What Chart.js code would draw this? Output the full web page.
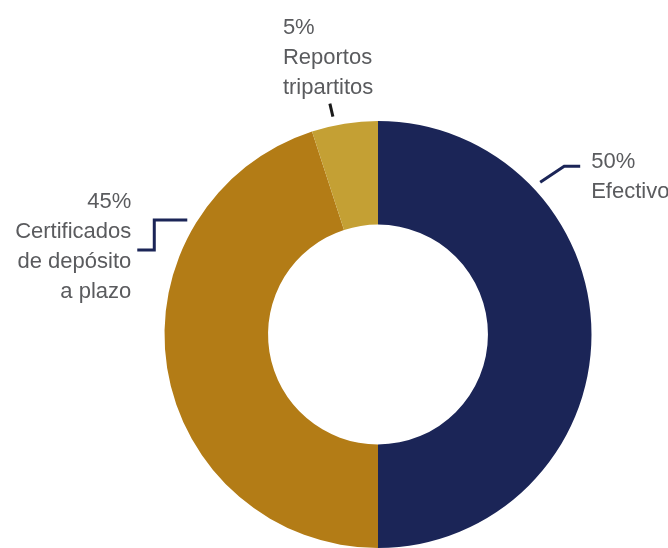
<!DOCTYPE html>
<html>
<head>
<meta charset="utf-8">
<script src="https://cdn.jsdelivr.net/npm/chart.js@4/dist/chart.umd.min.js"></script>
<style>
  html, body { margin: 0; padding: 0; background: #fff; }
  #wrap { width: 668px; height: 548px; position: relative; }
</style>
</head>
<body>
<div id="wrap"><canvas id="myChart"></canvas></div>
<script>
const categories = [
    ['Efectivo'],
    ['Certificados', 'de depósito', 'a plazo'],
    ['Reportos', 'tripartitos']
];
const shares = [50, 45, 5];
const colors = ['#1b2557', '#b37c16', '#c4a034'];

// where each callout sits: angle on the ring (deg, clockwise from top),
// leader path relative to its start, text anchor relative to the start
const callouts = [
    { angle: 46.8, path: [[24, -16], [40, -16]], color: '#1b2557', tx: 51, ty: -14, align: 'left' },
    { angle: 301, path: [[-33, 0], [-33, 30], [-50, 30]], color: '#1b2557', tx: -56, ty: -12, align: 'right' },
    { angle: 348.3, path: [[-3, -13]], color: '#1a1a1a', tx: -50, ty: -83, align: 'left' }
];

const calloutPlugin = {
    id: 'callouts',
    afterDraw(chart) {
        const ctx = chart.ctx;
        const arc = chart.getDatasetMeta(0).data[0];
        const cx = arc.x, cy = arc.y;
        const r = arc.outerRadius + 9;
        ctx.save();
        callouts.forEach((c, i) => {
            const a = c.angle * Math.PI / 180;
            const sx = cx + r * Math.sin(a);
            const sy = cy - r * Math.cos(a);
            ctx.beginPath();
            ctx.moveTo(sx, sy);
            c.path.forEach(p => ctx.lineTo(sx + p[0], sy + p[1]));
            ctx.strokeStyle = c.color;
            ctx.lineWidth = 3;
            ctx.lineJoin = 'miter';
            ctx.stroke();

            ctx.fillStyle = '#5a5b5e';
            ctx.font = '22px "Liberation Sans", Arial, sans-serif';
            ctx.textAlign = c.align;
            ctx.textBaseline = 'alphabetic';
            const lines = [shares[i] + '%'].concat(categories[i]);
            lines.forEach((t, k) => {
                ctx.fillText(t, sx + c.tx, sy + c.ty + k * 30);
            });
        });
        ctx.restore();
    }
};

const ctx = document.getElementById('myChart').getContext('2d');
const myChart = new Chart(ctx, {
    type: 'doughnut',
    data: {
        labels: categories.map(l => l.join(' ')),
        datasets: [
            {
                data: shares,
                backgroundColor: colors,
                borderWidth: 0
            }
        ]
    },
    options: {
        responsive: true,
        maintainAspectRatio: false,
        animation: false,
        cutout: '51.5%',
        layout: {
            padding: { left: 164, right: 76, top: 121, bottom: 0 }
        },
        plugins: {
            legend: { display: false },
            tooltip: { enabled: false }
        }
    },
    plugins: [calloutPlugin]
});
</script>
</body>
</html>
